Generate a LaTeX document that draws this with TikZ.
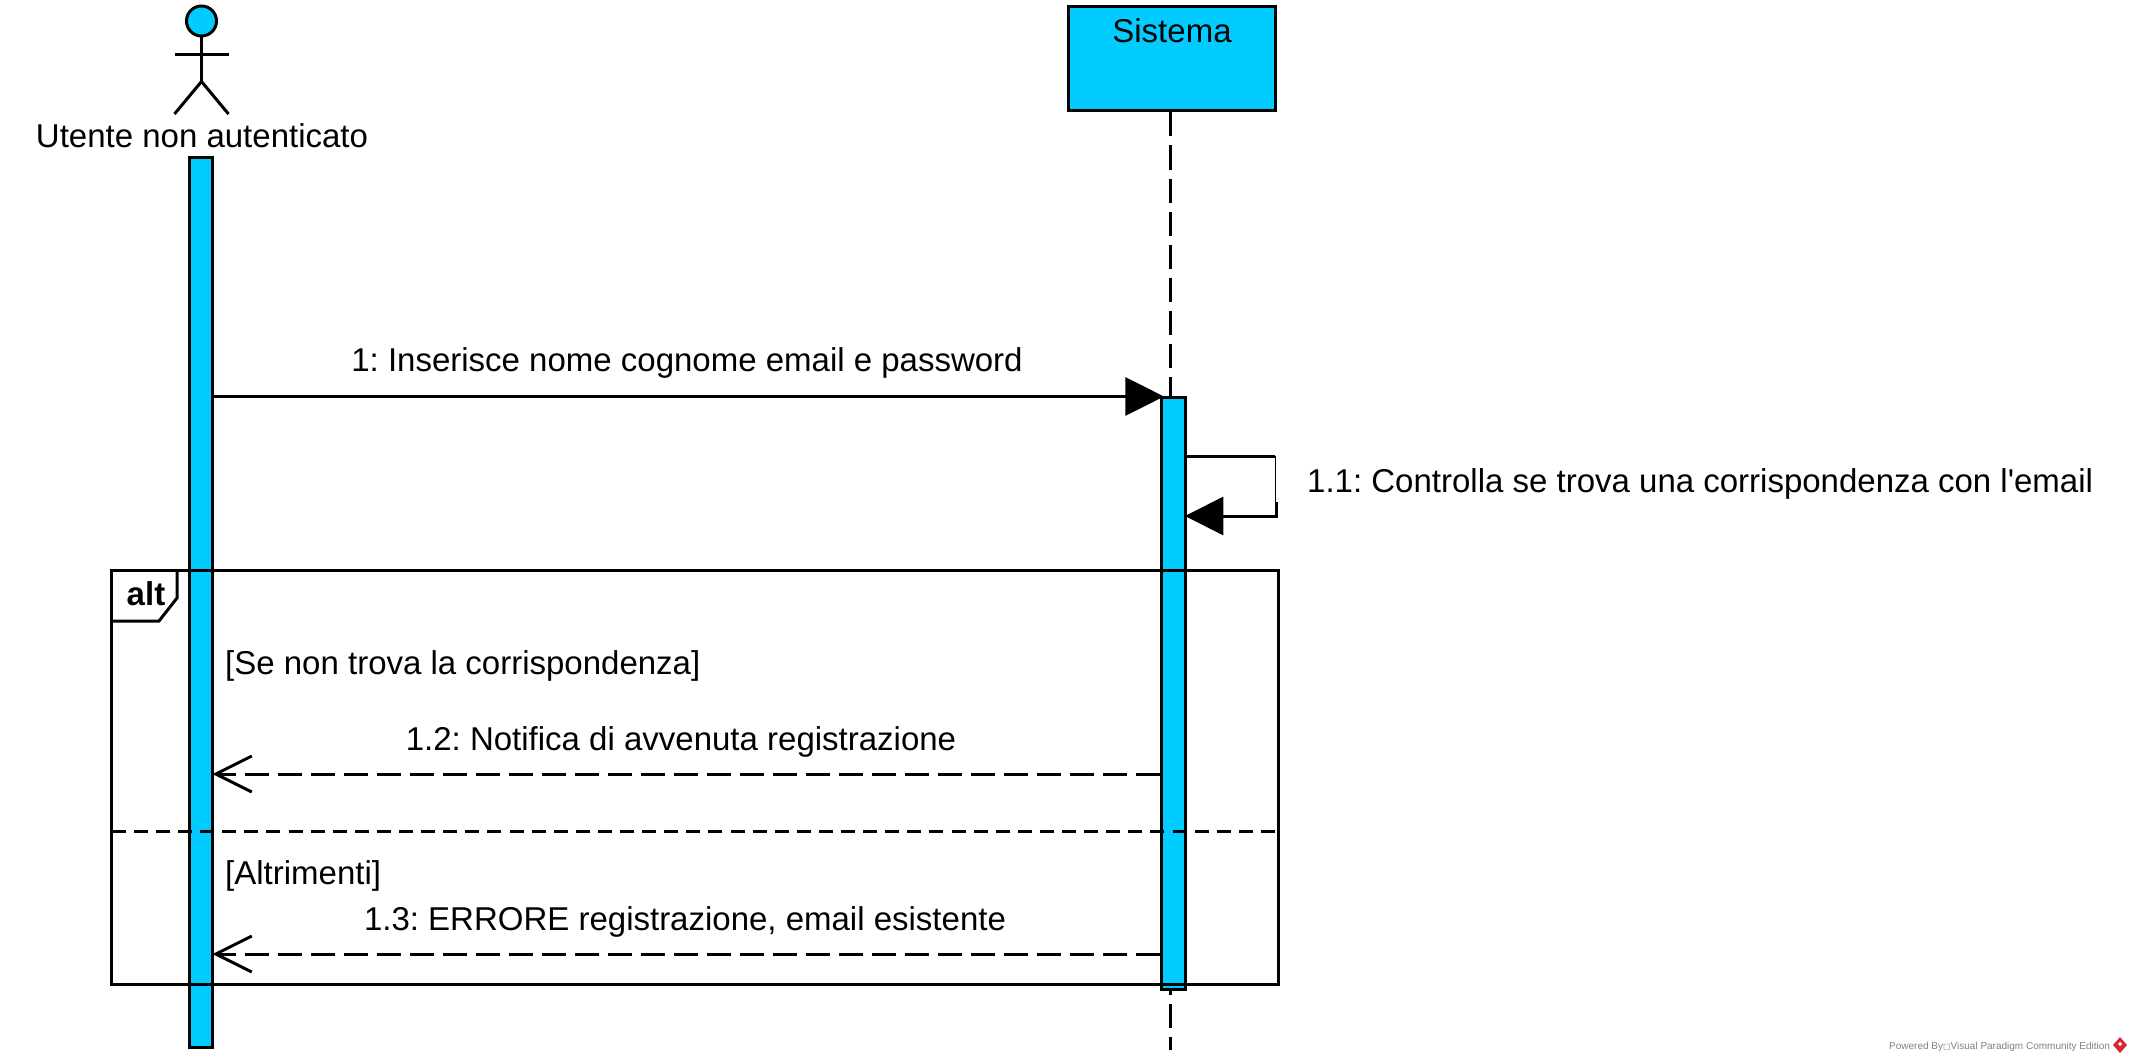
\documentclass[tikz,border=0pt]{standalone}
\usepackage{fontspec}
\setmainfont{Liberation Sans}[Ligatures=TeXOff]
\newfontfamily\boxfont{DejaVu Sans}
\usetikzlibrary{arrows.meta}
\frenchspacing

\definecolor{barblue}{RGB}{0,204,255}
\definecolor{footgray}{RGB}{128,128,128}
\definecolor{logored}{RGB}{214,40,50}
\newcommand{\msgfont}{\fontsize{33}{38}\selectfont}

\tikzset{
  umlline/.style={line width=3pt,black},
  actbar/.style={draw,umlline,fill=barblue,minimum width=23pt,inner sep=0pt},
  msglabel/.style={font=\msgfont,inner sep=0pt,anchor=base},
  guardlabel/.style={font=\msgfont,inner sep=0pt,anchor=base west},
  lifeline/.style={umlline,dash pattern=on 24pt off 9pt},
  callmsg/.style={umlline,-{Triangle[length=38.5pt,width=38pt]}},
  replymsg/.style={umlline,dash pattern=on 24pt off 9pt,-{Straight Barb[length=36pt,width=36pt,line width=3pt]}}
}

\begin{document}
\begin{tikzpicture}[x=1pt,y=-1pt]
\useasboundingbox (0,0) rectangle (2133,1062);
% actor
\node[draw,umlline,fill=barblue,circle,minimum size=30pt,inner sep=0pt] (head) at (201.5,21) {};
\coordinate (hip) at (201.5,81.5);
\coordinate (armL) at (174.5,54.3);
\coordinate (armR) at (228.5,54.3);
\coordinate (footL) at (174.5,114);
\coordinate (footR) at (228.5,114);
\draw[umlline] (head.south) -- (hip);
\draw[umlline] (armL) -- (armR);
\draw[umlline] (footL) -- (hip) -- (footR);
\node[msglabel] (actorname) at (202,147) {Utente non autenticato};
% sistema
\node[draw,umlline,fill=barblue,minimum width=206.5pt,minimum height=104.5pt,inner sep=0pt] (sys) at (1171.75,58.75) {};
\node[msglabel] (sysname) at (1172,42.5) {Sistema};
\coordinate (sysend) at (1170.5,1050);
\draw[lifeline] (sys.south -| sysend) -- (sysend);
% activations
\node[actbar,minimum height=890pt] (actuser) at (201.3,602) {};
\node[actbar,minimum width=23.7pt,minimum height=592.5pt] (actsys) at (1173.3,693.25) {};
% messages
\coordinate (m1a) at (actuser.east |- 0,396.5);
\coordinate (m1b) at ([xshift=4pt]actsys.west |- 0,396.5);
\draw[callmsg] (m1a) -- (m1b);
\node[msglabel] (m1label) at (687,371.5) {1: Inserisce nome cognome email e password};
\coordinate (m11a) at (actsys.east |- 0,456);
\coordinate (m11b) at (1275,456);
\coordinate (m11c) at (1275,502);
\coordinate (m11d) at (1276,502);
\coordinate (m11e) at (1276,516);
\coordinate (m11f) at ([xshift=-1.8pt]actsys.east |- 0,516);
\draw[umlline] (m11a) -- (m11b);
\draw[line width=1pt] (m11b) -- (m11c);
\draw[callmsg] (m11d) -- (m11e) -- (m11f);
\node[msglabel,anchor=base west] (m11label) at (1307,492) {1.1: Controlla se trova una corrispondenza con l'email};
\coordinate (m12a) at (actsys.west |- 0,774);
\coordinate (m12b) at ([xshift=-1.8pt]actuser.east |- 0,774);
\draw[replymsg] (m12a) -- (m12b);
\node[msglabel] (m12label) at (681,750) {1.2: Notifica di avvenuta registrazione};
\coordinate (m13a) at (actsys.west |- 0,954);
\coordinate (m13b) at ([xshift=-1.8pt]actuser.east |- 0,954);
\draw[replymsg] (m13a) -- (m13b);
\node[msglabel] (m13label) at (685,930) {1.3: ERRORE registrazione, email esistente};
% alt frame
\node[draw,umlline,minimum width=1167pt,minimum height=414.7pt,inner sep=0pt] (altframe) at (695.2,777.35) {};
\draw[umlline] ([xshift=1.5pt]altframe.west |- 0,621) -- (159,621) -- (177,598) -- (177,570);
\node[msglabel,font=\msgfont\bfseries] (altname) at (146,605) {alt};
\node[guardlabel] (guard1) at (225,674) {[Se non trova la corrispondenza]};
\coordinate (divL) at ([xshift=1.5pt]altframe.west |- 0,831);
\coordinate (divR) at ([xshift=-1.5pt]altframe.east |- 0,831);
\draw[umlline,dash pattern=on 14pt off 8.1pt] (divL) -- (divR);
\node[guardlabel] (guard2) at (225,884.5) {[Altrimenti]};
% footer
\node[font=\fontsize{10}{12}\selectfont,text=footgray,inner sep=0pt,anchor=base west] (footer) at (1889,1049) {Powered By{\boxfont\fontsize{8}{10}\selectfont □}Visual Paradigm Community Edition};
\fill[logored] (2120,1037) -- (2127,1045) -- (2120,1053) -- (2113,1045) -- cycle;
\fill[white] (2120,1042) -- (2122,1044) -- (2120,1046) -- (2118,1044) -- cycle;
\end{tikzpicture}
\end{document}
